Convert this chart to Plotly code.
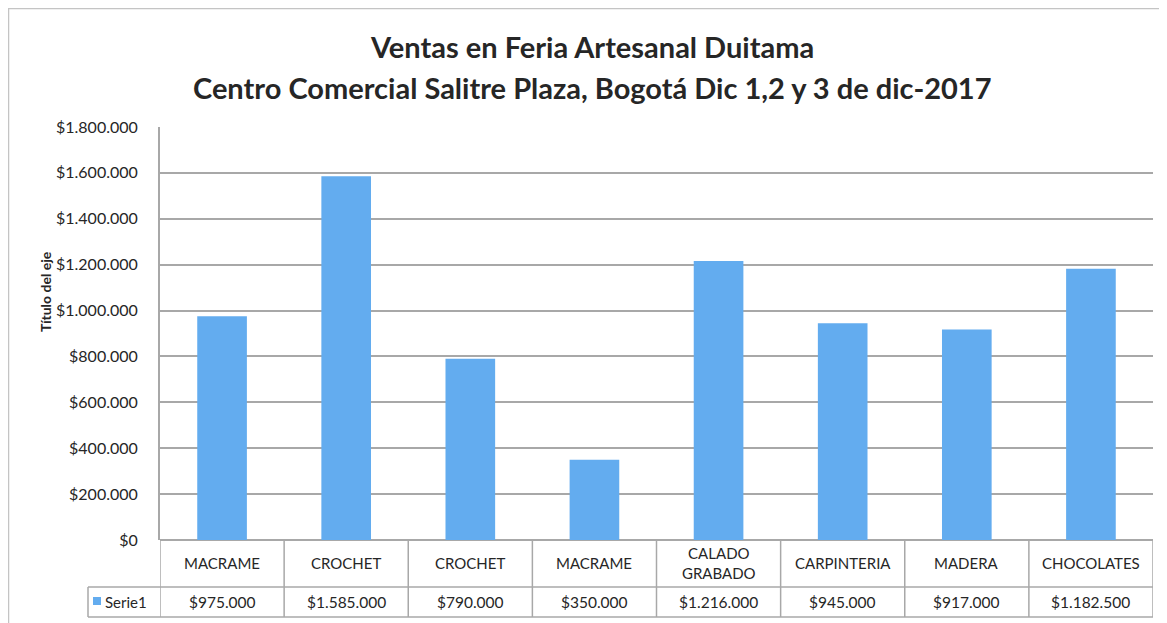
import plotly.graph_objects as go

categories = ["MACRAME", "CROCHET", "CROCHET", "MACRAME", "CALADO<br>GRABADO",
              "CARPINTERIA", "MADERA", "CHOCOLATES"]
values = [975000, 1585000, 790000, 350000, 1216000, 945000, 917000, 1182500]
series_name = "Serie1"
title_line1 = "Ventas en Feria Artesanal Duitama"
title_line2 = "Centro Comercial Salitre Plaza, Bogotá Dic 1,2 y 3 de dic-2017"
y_title = "Título del eje"

# the page puts the figure 8px from the top-left corner of the window
OFF = 8
W, H = 1167 - OFF, 623 - OFF
# plot area in window pixels: x 160..1153, y 127..540
L, R, T, B = 160 - OFF, 1167 - 1153, 127 - OFF, 623 - 540
pw, ph = W - L - R, H - T - B


def px_x(p):
    """window pixel x -> paper"""
    return (p - OFF - L) / pw


def px_y(p):
    """window pixel y -> paper"""
    return (H - B - (p - OFF)) / ph


def money(v):
    return "$" + f"{v:,.0f}".replace(",", ".")


FONT = "Lato, 'Open Sans', sans-serif"
TXT = "#262626"
GRID = "#a8a8a8"
BAR = "#63acef"

x = list(range(len(categories)))
fig = go.Figure()
fig.add_trace(go.Bar(x=x, y=values, marker=dict(color=BAR, line=dict(width=0)),
                     width=0.4, name=series_name, showlegend=False,
                     hovertemplate="%{y}<extra></extra>"))

shapes = []
ann = []
row1 = px_y(587)
row2 = px_y(617)
for i in range(len(categories) + 1):
    shapes.append(dict(type="line", xref="x", yref="paper", x0=i - 0.5, x1=i - 0.5,
                       y0=0, y1=row2, line=dict(color=GRID, width=1.5)))
for yy in (row1, row2):
    shapes.append(dict(type="line", xref="paper", yref="paper", x0=px_x(88), x1=1,
                       y0=yy, y1=yy, line=dict(color=GRID, width=1.5)))
shapes.append(dict(type="line", xref="paper", yref="paper", x0=px_x(88), x1=px_x(88),
                   y0=row1, y1=row2, line=dict(color=GRID, width=1.5)))
shapes.append(dict(type="rect", xref="paper", yref="paper", x0=px_x(93), x1=px_x(101),
                   y0=px_y(605), y1=px_y(597), line=dict(width=0), fillcolor=BAR))
# chart frame
FR = "#c4c4c4"
shapes.append(dict(type="line", xref="paper", yref="paper", x0=px_x(8.5), x1=px_x(8.5),
                   y0=px_y(8), y1=px_y(623), line=dict(color=FR, width=1.5)))
shapes.append(dict(type="line", xref="paper", yref="paper", x0=px_x(8), x1=px_x(1166.5),
                   y0=px_y(8.5), y1=px_y(8.5), line=dict(color=FR, width=1.5)))
shapes.append(dict(type="line", xref="paper", yref="paper", x0=px_x(1166), x1=px_x(1166),
                   y0=px_y(8), y1=px_y(623), line=dict(color="#e0e0e0", width=1)))

for i, (c, v) in enumerate(zip(categories, values)):
    ann.append(dict(x=i, xref="x", y=px_y(563), yref="paper", text=c, showarrow=False,
                    font=dict(family=FONT, size=15, color=TXT), yanchor="middle"))
    ann.append(dict(x=i, xref="x", y=px_y(602), yref="paper", text=money(v), showarrow=False,
                    font=dict(family=FONT, size=15.5, color=TXT), yanchor="middle"))
ann.append(dict(x=px_x(103), xref="paper", y=px_y(602), yref="paper", text=series_name,
                showarrow=False, xanchor="left", yanchor="middle",
                font=dict(family=FONT, size=15, color=TXT)))
ann.append(dict(x=px_x(592), xref="paper", y=px_y(47), yref="paper", text="<b>" + title_line1 + "</b>",
                showarrow=False, yanchor="middle", font=dict(family=FONT, size=29, color=TXT)))
ann.append(dict(x=px_x(592), xref="paper", y=px_y(87), yref="paper", text="<b>" + title_line2 + "</b>",
                showarrow=False, yanchor="middle", font=dict(family=FONT, size=29, color=TXT)))
ann.append(dict(x=px_x(45), xref="paper", y=px_y(292), yref="paper", text="<b>" + y_title + "</b>",
                showarrow=False, textangle=-90, xanchor="center", yanchor="middle",
                font=dict(family=FONT, size=14, color=TXT)))

fig.update_layout(
    width=W, height=H,
    margin=dict(l=L, r=R, t=T, b=B, pad=0),
    paper_bgcolor="white", plot_bgcolor="white",
    separators=",.",
    font=dict(family=FONT, color=TXT),
    shapes=shapes, annotations=ann,
)
fig.update_xaxes(range=[-0.5, len(categories) - 0.5], showticklabels=False, showgrid=False,
                 zeroline=False, showline=False, ticks="", fixedrange=True)
fig.update_yaxes(range=[0, 1800000], dtick=200000, tickprefix="$", tickformat=",.0f",
                 showgrid=True, gridcolor=GRID, gridwidth=2, zeroline=True,
                 zerolinecolor=GRID, zerolinewidth=2, showline=True, linecolor=GRID,
                 linewidth=2, ticks="", ticklabelstandoff=17,
                 tickfont=dict(family=FONT, size=16, color=TXT), fixedrange=True)

fig.write_html("out.html")
